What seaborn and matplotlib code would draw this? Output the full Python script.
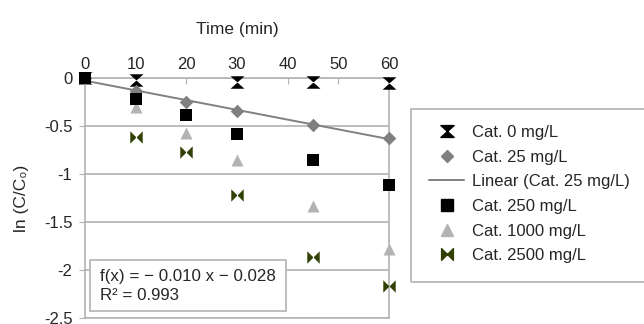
import numpy as np
import pandas as pd
import matplotlib
matplotlib.use("Agg")
import matplotlib.pyplot as plt
from matplotlib.path import Path
from matplotlib.patches import Rectangle
from matplotlib.lines import Line2D
import seaborn as sns

# data
t_cat0 = [0, 10, 30, 45, 60]
y_cat0 = [0, -0.02, -0.04, -0.04, -0.05]
t_all = [0, 10, 20, 30, 45, 60]
y_cat25 = [0, -0.14, -0.25, -0.34, -0.49, -0.62]
y_cat250 = [0, -0.22, -0.39, -0.58, -0.85, -1.11]
y_cat1000 = [0, -0.30, -0.57, -0.85, -1.33, -1.78]
t_cat2500 = [10, 20, 30, 45, 60]
y_cat2500 = [-0.61, -0.77, -1.22, -1.86, -2.17]

labels = ["Cat. 0 mg/L", "Cat. 25 mg/L", "Cat. 250 mg/L", "Cat. 1000 mg/L", "Cat. 2500 mg/L"]
x_ticks = [0, 10, 20, 30, 40, 50, 60]
y_ticks = [0, -0.5, -1, -1.5, -2, -2.5]

sns.set_style("white")
plt.rcParams["font.family"] = ["Liberation Sans", "DejaVu Sans"]

hourglass = Path([(-1, 0.9), (1, 0.9), (-1, -0.9), (1, -0.9), (-1, 0.9)],
                 [Path.MOVETO, Path.LINETO, Path.LINETO, Path.LINETO, Path.CLOSEPOLY])
bowtie = Path([(-1, 1), (-1, -1), (1, 1), (1, -1), (-1, 1)],
              [Path.MOVETO, Path.LINETO, Path.LINETO, Path.LINETO, Path.CLOSEPOLY])

W, H = 644, 324
fig = plt.figure(figsize=(6.44, 3.24), dpi=100)
ax = fig.add_axes([85 / W, 1 - 318 / H, 304 / W, 240 / H])

grid_c = "#b3b3b3"
fs = 12
series = [
    (t_cat0, y_cat0, labels[0], hourglass, "#000000", 100, 4),
    (t_all, y_cat25, labels[1], "D", "#808080", 48, 4),
    (t_all, y_cat250, labels[2], "s", "#000000", 72, 6),
    (t_all, y_cat1000, labels[3], "^", "#b3b3b3", 75, 4),
    (t_cat2500, y_cat2500, labels[4], bowtie, "#314004", 80, 4),
]
for tx, ty, lab, mk, col, sz, zo in series:
    df = pd.DataFrame({"t": tx, "y": ty})
    sns.scatterplot(data=df, x="t", y="y", marker=mk, color=col, edgecolor=col,
                    linewidth=0, s=sz, ax=ax, zorder=zo, clip_on=False, legend=False)

# linear trend for Cat. 25
df25 = pd.DataFrame({"t": t_all, "y": y_cat25})
sns.regplot(data=df25, x="t", y="y", scatter=False, ci=None, ax=ax,
            line_kws={"color": "#808080", "lw": 1.4, "zorder": 3})

ax.set_xlim(0, 60)
ax.set_ylim(-2.5, 0)
ax.set_xticks(x_ticks)
ax.set_yticks(y_ticks)
ax.set_yticklabels([f"{v:g}" for v in y_ticks])
ax.xaxis.tick_top()
ax.xaxis.set_label_position("top")
ax.set_xlabel("Time (min)", fontsize=12.5, labelpad=17)
ax.set_ylabel("ln (C/C\u2080)", fontsize=12.5, labelpad=11)
ax.tick_params(axis="x", direction="in", length=4, color=grid_c, labelsize=12, pad=4)
ax.tick_params(axis="y", direction="out", length=4, color=grid_c, labelsize=12, pad=5, left=True)
ax.yaxis.grid(True, color=grid_c, lw=1.2)
ax.xaxis.grid(False)
for sp in ax.spines.values():
    sp.set_color(grid_c)
    sp.set_linewidth(1.2)
    sp.set_visible(True)

# equation box
fig.add_artist(Rectangle((90 / W, 1 - 311 / H), 196 / W, 51 / H, transform=fig.transFigure,
                         fc="white", ec=grid_c, lw=1.2, zorder=5))
fig.text(100 / W, 1 - 277 / H, "f(x) = \u2212 0.010 x \u2212 0.028", fontsize=12.2,
         va="center", ha="left", zorder=6)
fig.text(100 / W, 1 - 296 / H, "R\u00b2 = 0.993", fontsize=12.2,
         va="center", ha="left", zorder=6)

# legend
handles = [
    Line2D([], [], ls="", marker=hourglass, color="#000000", ms=9.5),
    Line2D([], [], ls="", marker="D", color="#808080", ms=6),
    Line2D([], [], color="#808080", lw=1.4),
    Line2D([], [], ls="", marker="s", color="#000000", ms=8),
    Line2D([], [], ls="", marker="^", color="#b3b3b3", ms=8),
    Line2D([], [], ls="", marker=bowtie, color="#314004", ms=8.5),
]
leg_labels = [labels[0], labels[1], "Linear (Cat. 25 mg/L)", labels[2], labels[3], labels[4]]
fig.legend(handles, leg_labels, loc="upper left", bbox_to_anchor=(429 / W, 1 - 125 / H),
           frameon=False, fontsize=fs, handlelength=2.1, handletextpad=0.45,
           labelspacing=0.58, borderpad=0, borderaxespad=0)
fig.add_artist(Rectangle((411 / W, 1 - 282 / H), 240 / W, 173 / H,
                         transform=fig.transFigure, fill=False, ec=grid_c, lw=1.2))

plt.savefig("out.png", dpi=100)
